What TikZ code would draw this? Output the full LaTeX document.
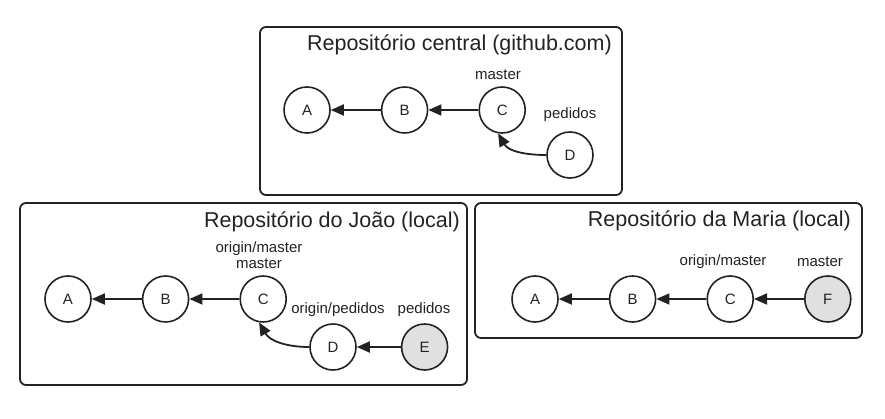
\documentclass[tikz,border=0pt]{standalone}
\usepackage{fontspec}
\setmainfont{Liberation Sans}
\usetikzlibrary{arrows.meta, positioning}
\definecolor{gitink}{HTML}{222222}
\definecolor{gitfill}{HTML}{E0E0E0}

\begin{document}
\begin{tikzpicture}[x=1pt, y=1pt,
    node distance=50pt,
    commit/.style={circle, draw=gitink, line width=1.6pt, minimum size=46pt,
                   inner sep=0pt, font=\fontsize{15}{17}\selectfont, text=gitink},
    newcommit/.style={commit, fill=gitfill},
    ref/.style={font=\fontsize{15}{16}\selectfont, text=gitink, align=center, inner sep=0pt},
    repo/.style={draw=gitink, line width=1.8pt, rounded corners=6pt},
    repotitle/.style={font=\fontsize{21.5}{24}\selectfont, text=gitink, anchor=east, inner sep=0pt},
    arr/.style={-{Triangle[length=13pt, width=11pt]}, gitink, line width=1.8pt}]
  \useasboundingbox (0,0) rectangle (885,-419);
  % central repository
  \draw[repo] (260,-27) rectangle (622,-195);
  \node[repotitle] (tc) at (612,-45) {Repositório central (github.com)};
  \node[commit] (ca) at (307,-110) {A};
  \node[commit, right=of ca] (cb) {B};
  \node[commit, right=of cb] (cc) {C};
  \node[commit] (cd) at (570,-155) {D};
  \node[ref] (ccm) at (498,-75) {master};
  \node[ref] (cdp) at (570,-115) {pedidos};
  \draw[arr] (cb) -- (ca); \draw[arr] (cc) -- (cb);
  \draw[arr] (cd.west) to[out=180, in=-60] (cc.-100);
  % joao
  \draw[repo] (20,-203) rectangle (467,-385);
  \node[repotitle] (tj) at (460,-222) {Repositório do João (local)};
  \node[commit] (ja) at (68,-299) {A};
  \node[commit, right=of ja] (jb) {B};
  \node[commit, right=of jb] (jc) {C};
  \node[commit] (jd) at (333,-347) {D};
  \node[newcommit, right=44pt of jd] (je) {E};
  \node[ref] (jcm) at (259,-255) {origin/master\\master};
  \node[ref] (jdp) at (338,-310) {origin/pedidos};
  \node[ref] (jep) at (424,-310) {pedidos};
  \draw[arr] (jb) -- (ja); \draw[arr] (jc) -- (jb);
  \draw[arr] (jd.west) to[out=180, in=-60] (jc.-100);
  \draw[arr] (je) -- (jd);
  % maria
  \draw[repo] (475,-203) rectangle (862,-338);
  \node[repotitle] (tm) at (851,-221) {Repositório da Maria (local)};
  \node[commit] (ma) at (535,-299) {A};
  \node[commit, right=of ma] (mb) {B};
  \node[commit, right=of mb] (mc) {C};
  \node[newcommit, right=of mc] (mf) {F};
  \node[ref] (mcm) at (723,-262) {origin/master};
  \node[ref] (mfm) at (820,-262) {master};
  \draw[arr] (mb) -- (ma); \draw[arr] (mc) -- (mb); \draw[arr] (mf) -- (mc);
\end{tikzpicture}
\end{document}
